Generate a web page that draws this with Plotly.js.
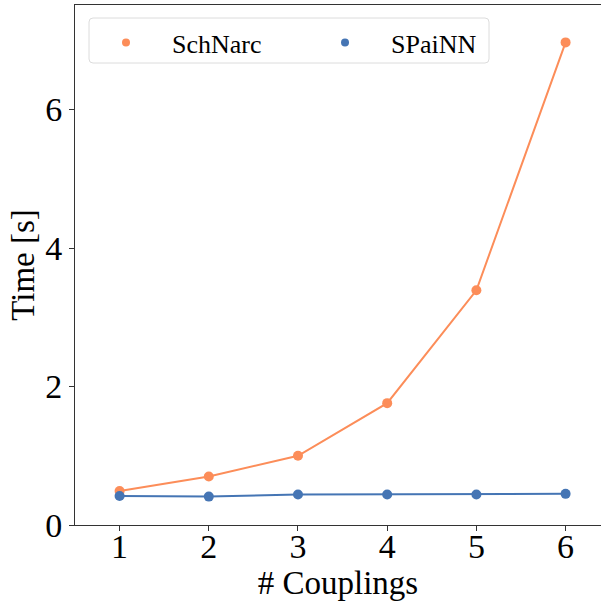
<!DOCTYPE html>
<html>
<head>
<meta charset="utf-8">
<script src="https://cdn.plot.ly/plotly-3.0.1.min.js"></script>
<style>html,body{margin:0;padding:0;background:#fff;}</style>
</head>
<body>
<div id="chart" style="width:601px;height:601px;"></div>
<script>
const couplings = [1, 2, 3, 4, 5, 6];
const schnarcTime = [0.49, 0.70, 1.00, 1.76, 3.39, 6.97];
const spainnTime = [0.42, 0.41, 0.44, 0.44, 0.44, 0.45];
const seriesNames = ["SchNarc", "SPaiNN"];
const seriesColors = ["#fc8d59", "#4575b4"];

const font = "Liberation Serif, Times New Roman, serif";
const nb = n => "\u00a0".repeat(n);

const traces = [
  {x: couplings, y: schnarcTime, mode: "lines+markers", name: seriesNames[0],
   line: {color: seriesColors[0], width: 2}, marker: {color: seriesColors[0], size: 10}, showlegend: false},
  {x: couplings, y: spainnTime, mode: "lines+markers", name: seriesNames[1],
   line: {color: seriesColors[1], width: 2}, marker: {color: seriesColors[1], size: 10}, showlegend: false},
  {x: [null], y: [null], mode: "markers", name: nb(4) + seriesNames[0] + nb(9),
   marker: {color: seriesColors[0], size: 8}},
  {x: [null], y: [null], mode: "markers", name: nb(4) + seriesNames[1],
   marker: {color: seriesColors[1], size: 8}}
];

// legend frame in paper coords (plot area: x 75..601, y 5..525 px)
const fx = px => (px - 75) / 526;
const fy = py => (525 - py) / 520;
const r = 4;
const x0 = 89, x1 = 489, y0 = 18, y1 = 63;
const framePath = `M ${fx(x0 + r)} ${fy(y0)} L ${fx(x1 - r)} ${fy(y0)} Q ${fx(x1)} ${fy(y0)} ${fx(x1)} ${fy(y0 + r)} ` +
  `L ${fx(x1)} ${fy(y1 - r)} Q ${fx(x1)} ${fy(y1)} ${fx(x1 - r)} ${fy(y1)} L ${fx(x0 + r)} ${fy(y1)} ` +
  `Q ${fx(x0)} ${fy(y1)} ${fx(x0)} ${fy(y1 - r)} L ${fx(x0)} ${fy(y0 + r)} Q ${fx(x0)} ${fy(y0)} ${fx(x0 + r)} ${fy(y0)} Z`;

const layout = {
  width: 601, height: 601,
  margin: {l: 75, r: 0, t: 5, b: 76},
  paper_bgcolor: "#fff", plot_bgcolor: "#fff",
  font: {family: font, color: "#000"},
  showlegend: true,
  legend: {
    orientation: "h", x: fx(106), y: fy(19), xanchor: "left", yanchor: "top",
    borderwidth: 0, bgcolor: "rgba(0,0,0,0)",
    font: {family: font, size: 26, color: "#000"}
  },
  shapes: [{type: "path", xref: "paper", yref: "paper", path: framePath,
    line: {color: "#dcdcdc", width: 1}, fillcolor: "rgba(255,255,255,0.8)", layer: "below"}],
  xaxis: {
    range: [0.5, 6.397], tickvals: couplings, ticks: "outside", ticklen: 5, tickcolor: "#333",
    showline: true, linecolor: "#333", linewidth: 1, mirror: true, showgrid: false, zeroline: false,
    ticklabelstandoff: -14,
    tickfont: {family: font, size: 34, color: "#000"},
    title: {text: "# Couplings", font: {family: font, size: 33, color: "#000"}, standoff: 0}
  },
  yaxis: {
    range: [0, 7.51], tickvals: [0, 2, 4, 6], ticks: "outside", ticklen: 5, tickcolor: "#333",
    showline: true, linecolor: "#333", linewidth: 1, showgrid: false, zeroline: false,
    tickfont: {family: font, size: 34, color: "#000"},
    title: {text: "Time [s]", font: {family: font, size: 33, color: "#000"}, standoff: 0}
  }
};

Plotly.newPlot("chart", traces, layout, {displayModeBar: false, staticPlot: true});
</script>
</body>
</html>
